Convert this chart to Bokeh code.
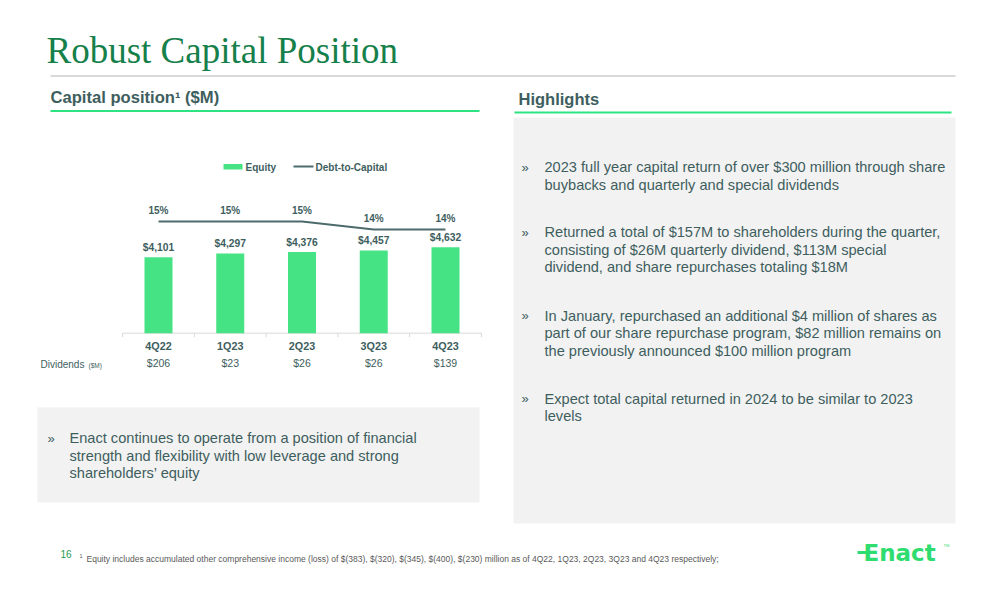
from bokeh.plotting import figure
from bokeh.models import Range1d
from bokeh.embed import file_html
from bokeh.resources import INLINE
from bokeh.core.properties import value

# ---------------- data ----------------
quarters = ["4Q22", "1Q23", "2Q23", "3Q23", "4Q23"]
equity = [4101, 4297, 4376, 4457, 4632]
equity_labels = ["$4,101", "$4,297", "$4,376", "$4,457", "$4,632"]
debt_to_capital = [15, 15, 15, 14, 14]
dtc_labels = ["15%", "15%", "15%", "14%", "14%"]
dividends = ["$206", "$23", "$26", "$26", "$139"]

highlights = [
    ["2023 full year capital return of over $300 million through share",
     "buybacks and quarterly and special dividends"],
    ["Returned a total of $157M to shareholders during the quarter,",
     "consisting of $26M quarterly dividend, $113M special",
     "dividend, and share repurchases totaling $18M"],
    ["In January, repurchased an additional $4 million of shares as",
     "part of our share repurchase program, $82 million remains on",
     "the previously announced $100 million program"],
    ["Expect total capital returned in 2024 to be similar to 2023",
     "levels"],
]
left_note = ["Enact continues to operate from a position of financial",
             "strength and flexibility with low leverage and strong",
             "shareholders\u2019 equity"]
footnote = ("Equity includes accumulated other comprehensive income (loss) of $(383), $(320), "
            "$(345), $(400), $(230) million as of 4Q22, 1Q23, 2Q23, 3Q23 and 4Q23 respectively;")

# ---------------- styles ----------------
SANS = value("Liberation Sans")
SERIF = value("Liberation Serif")
TITLE_GREEN = "#16804a"
TEXT = "#3e5e5e"
LINE_GREEN = "#2ee381"
BAR_GREEN = "#46e384"
BOX = "#f2f2f2"
DARK_LINE = "#4d6b6b"
LOGO = "#2fdc6f"

W, H = 992, 596
p = figure(width=W, height=H, x_range=Range1d(0, W), y_range=Range1d(H, 0),
           output_backend="svg", toolbar_location=None,
           x_axis_location=None, y_axis_location=None,
           min_border_left=0, min_border_right=0, min_border_top=0, min_border_bottom=0)
p.grid.visible = False
p.outline_line_color = None
p.background_fill_color = "white"
p.border_fill_color = "white"

# chart scales mapped into the slide
c0, step = 158.0, 71.75
xs = -c0 / step
p.extra_x_ranges = {"cx": Range1d(xs, xs + W / step)}
base_px, kpx = 332.7, 76.0 / 4101
p.extra_y_ranges = {
    "eq": Range1d((base_px - H) / kpx, base_px / kpx),
    "dc": Range1d(15 + (221 - H) / 8.0, 15 + 221 / 8.0),
}


def txt(x, y, t, size, color=TEXT, bold=False, font=SANS, align="left"):
    p.text(x=x, y=y, text=t, text_font=font, text_font_size=size, text_color=color,
           text_font_style="bold" if bold else "normal", text_align=align,
           text_baseline="middle")


# ---------------- slide decoration ----------------
txt([46], [50], ["Robust Capital Position"], "37px", color=TITLE_GREEN, font=SERIF)
p.segment(x0=[50], y0=[75.5], x1=[955], y1=[75.5], line_color="#d9d9d9", line_width=2)

txt([50], [96.5], ["Capital position\u00b9 ($M)"], "16.6px", bold=True)
p.segment(x0=[50], y0=[110.5], x1=[479], y1=[110.5], line_color=LINE_GREEN, line_width=2)

txt([518], [98.5], ["Highlights"], "16.5px", bold=True)
p.segment(x0=[514], y0=[112], x1=[951], y1=[112], line_color=LINE_GREEN, line_width=2)

# boxes
p.quad(left=[513], right=[955], top=[117], bottom=[523], fill_color=BOX, line_color=None)
p.quad(left=[37], right=[479], top=[407], bottom=[502], fill_color=BOX, line_color=None)

# highlights bullets
starts = [166.5, 231.5, 315, 398]
lh = 17.5
for y0, lines in zip(starts, highlights):
    txt([521], [y0], ["\u00bb"], "13px")
    txt([544] * len(lines), [y0 + i * lh for i in range(len(lines))], lines, "14.6px")

txt([47], [437.5], ["\u00bb"], "13px")
txt([69] * 3, [437.5 + i * lh for i in range(3)], left_note, "14.6px")

# footnote
txt([60], [553], ["16"], "10px", color="#1f9a55")
txt([79], [555], ["1"], "5.5px", color="#595959")
txt([86], [558], [footnote], "8.5px", color="#595959")

# logo
txt([863], [552], ["Enact"], "23px", color=LOGO, bold=True, font=value("DejaVu Sans"))
p.segment(x0=[857], y0=[552], x1=[868], y1=[552], line_color=LOGO, line_width=3)
txt([943], [545], ["TM"], "4px", color=LOGO)

# ---------------- chart ----------------
idx = list(range(len(quarters)))
# legend
p.quad(left=[223], right=[242], top=[163.5], bottom=[169], fill_color=BAR_GREEN, line_color=None)
txt([245], [166.5], ["Equity"], "10px", bold=True)
p.segment(x0=[293], y0=[166], x1=[313], y1=[166], line_color=DARK_LINE, line_width=2)
txt([315], [166.5], ["Debt-to-Capital"], "10px", bold=True)

# axis baseline and ticks
p.segment(x0=[-0.5], y0=[0], x1=[len(quarters) - 0.5], y1=[0], line_color="#d9d9d9",
          line_width=1, x_range_name="cx", y_range_name="eq")
tk = [i - 0.5 for i in range(len(quarters) + 1)]
p.segment(x0=tk, y0=[0] * len(tk), x1=tk, y1=[-4 / kpx] * len(tk), line_color="#d9d9d9",
          line_width=1, x_range_name="cx", y_range_name="eq")

p.vbar(x=idx, top=equity, bottom=0, width=28 / step, fill_color=BAR_GREEN, line_color=None,
       x_range_name="cx", y_range_name="eq")
p.text(x=idx, y=equity, text=equity_labels, text_font=SANS, text_font_style="bold",
       text_font_size="10.3px", text_color=TEXT, text_align="center", text_baseline="middle",
       y_offset=-10, x_range_name="cx", y_range_name="eq")

p.line(x=idx, y=debt_to_capital, line_color=DARK_LINE, line_width=2,
       x_range_name="cx", y_range_name="dc")
p.text(x=idx, y=debt_to_capital, text=dtc_labels, text_font=SANS, text_font_style="bold",
       text_font_size="10px", text_color=TEXT, text_align="center", text_baseline="middle",
       y_offset=-11.5, x_range_name="cx", y_range_name="dc")

p.text(x=idx, y=[0] * len(idx), text=quarters, text_font=SANS, text_font_style="bold",
       text_font_size="10.8px", text_color=TEXT, text_align="center", text_baseline="middle",
       y_offset=12.5, x_range_name="cx", y_range_name="eq")
p.text(x=idx, y=[0] * len(idx), text=dividends, text_font=SANS,
       text_font_size="10.5px", text_color=TEXT, text_align="center", text_baseline="middle",
       y_offset=29.5, x_range_name="cx", y_range_name="eq")
txt([40], [364], ["Dividends"], "10px")
txt([88], [365], ["($M)"], "6.5px")

open("out.html", "w").write(file_html(p, INLINE))
